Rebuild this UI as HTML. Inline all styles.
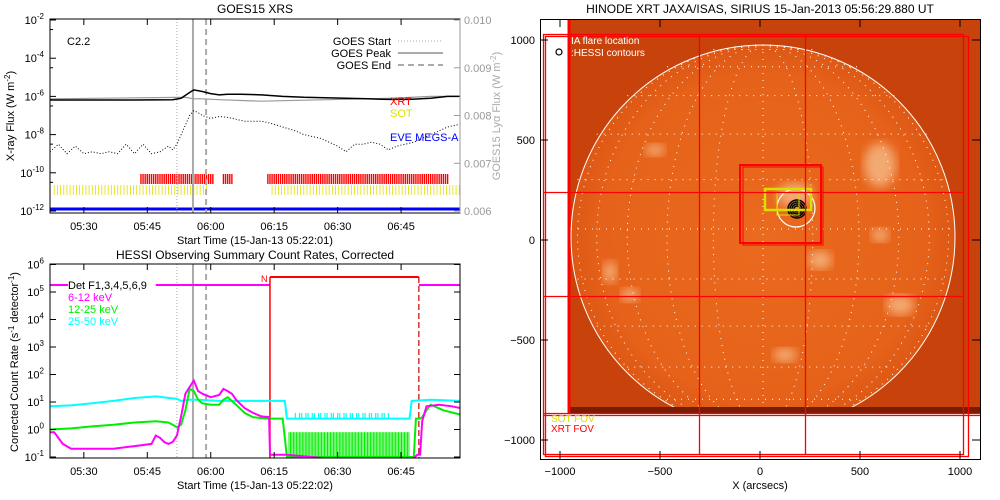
<!DOCTYPE html>
<html><head><meta charset="utf-8"><style>
html,body{margin:0;padding:0;background:#fff;width:1000px;height:500px;overflow:hidden}
svg{display:block;font-family:"Liberation Sans",sans-serif}
</style></head><body>
<svg id="fig" width="1000" height="500" viewBox="0 0 1000 500" xmlns="http://www.w3.org/2000/svg">
<defs>
<clipPath id="clipTop"><rect x="50" y="19" width="410" height="194"/></clipPath>
<clipPath id="clipBot"><rect x="50" y="264" width="410" height="194"/></clipPath>
<clipPath id="clipImg"><rect x="568" y="19" width="412" height="394"/></clipPath>
<radialGradient id="sunGrad" cx="0.5" cy="0.5" r="0.5">
<stop offset="0" stop-color="#ea6a1e"/><stop offset="0.85" stop-color="#e6621a"/><stop offset="1" stop-color="#dc5814"/></radialGradient>
<filter id="blur"><feGaussianBlur stdDeviation="5"/></filter>
</defs>
<g id="topPanel"></g>
<g id="botPanel"></g>
<g id="rightPanel"></g>
</svg>
<script>
// ---- GOES data (minutes since 05:22:01) ----
const goesLongT=[0,10,20,29,31,33,34,36,38,40,42,45,50,55,60,65,70,75,80,85,90,94,97];
const goesLongV=[6.5e-7,6.5e-7,6.5e-7,6.6e-7,8e-7,1.6e-6,2.2e-6,1.8e-6,1.4e-6,1.2e-6,1.3e-6,1.3e-6,1.2e-6,1.0e-6,9e-7,8.5e-7,8e-7,7.5e-7,7e-7,7e-7,8e-7,1e-6,1e-6];
const goesShortT=[0,2,4,6,8,10,12,14,16,18,20,22,24,26,28,29,30,31,32,33,34,35,36,38,40,42,44,46,48,50,52,55,58,60,62,64,66,68,70,72,74,76,78,80,82,84,86,88,90,92,94,96,97];
const goesShortLog=[-8.9,-8.5,-9,-8.6,-9,-8.9,-9,-8.9,-9,-8.5,-9,-8.5,-9,-8.9,-8.6,-8.8,-8.5,-8,-7.5,-7.0,-6.75,-6.85,-7.0,-7.15,-7.05,-7.1,-7.2,-7.3,-7.3,-7.3,-7.4,-7.6,-7.8,-8.0,-8.1,-8.2,-8.4,-8.6,-8.9,-8.5,-8.5,-8.4,-8.5,-8.8,-8.6,-8.5,-8.4,-8.2,-8.0,-7.8,-7.6,-7.5,-7.45];
const lyaT=[0,30,32,34,36,40,50,60,70,80,85,90,97];
const lyaV=[0.00835,0.00838,0.00838,0.00835,0.00835,0.00833,0.0083,0.00832,0.00834,0.00836,0.00838,0.0084,0.0084];
const goesTickLabels=["-2","-4","-6","-8","-10","-12"];
const lyaTickLabels=["0.010","0.009","0.008","0.007","0.006"];
const timeTickLabels=["05:30","05:45","06:00","06:15","06:30","06:45"];
const timeTickMins=[8,23,38,53,68,83];
const xrtRanges=[[21.5,38.5],[41,43],[51.5,94]];
const sotRanges=[[1,37.5],[52.5,97]];
const flareTimes=[30,33.8,36.9];
// ---- HESSI data ----
const magT=[0,1,3,5,8,15,20,24,25,26,27,28,29,30,31,32,33,34,35,36,38,40,41,42,43,44,46,48,50,51.8,52,56,65,86,86.8,87.5,88,89,92,95,97];
const magV=[0.8,0.8,0.3,0.2,0.2,0.2,0.25,0.3,0.6,0.5,0.35,0.3,0.35,0.6,3,20,35,60,25,20,15,18,30,25,20,12,6,4,3,2.8,0.12,0.12,0.09,0.09,0.12,0.12,2,7,8,7,6];
const grnT=[0,5,10,15,20,25,28,29,30,31,32,33,34,35,36,38,40,41,42,44,46,48,50,52,55,56,86,86.5,87.5,88,89,90,93,97];
const grnV=[1,1.1,1.3,1.5,1.8,2,1.8,1.5,1.2,1.5,5,30,25,12,9,8,8,12,15,8,4,2.8,2.6,2.5,2.5,0.1,0.1,2.5,2.5,2.8,5,8,5,3.5];
const cyaT=[0,5,10,15,20,25,30,31,33,35,40,45,52,55.5,56,70,85,85.5,90,97];
const cyaV=[7,7.5,9,11,14,16,13,11,12,12,11,11,11,11,2.5,2.5,2.5,11,12,11];
const grnGate=[56.5,85,0.8];
const cyaGate=[58,80,4];
const hessiTickExp=["6","5","4","3","2","1","0","-1"];
const hessiTickVals=[1e6,1e5,1e4,1e3,1e2,1e1,1,0.1];
const attenT=[52,87.2];
const imgTicks=[-1000,-500,0,500,1000];

const NS="http://www.w3.org/2000/svg";
function mk(tag,attrs,parent,txt){const e=document.createElementNS(NS,tag);for(const k in attrs)e.setAttribute(k,attrs[k]);if(txt!==undefined)e.textContent=txt;parent.appendChild(e);return e;}
const tx=t=>50+t*4.23;
const gy=v=>20+(-2-Math.log10(v))*19.1;
const gyl=l=>20+(-2-l)*19.1;
const ry=v=>20+(0.010-v)/0.004*191;
const hy=v=>457-(Math.log10(v)+1)*27.5;
function pathStep(T,V,fx,fy){let d="";for(let i=0;i<T.length;i++){d+=(i?"L":"M")+fx(T[i]).toFixed(1)+","+fy(V[i]).toFixed(1);}return d;}

// ================ TOP PANEL ================
const tp=document.getElementById('topPanel');
let t1=mk('text',{x:255,y:13,'text-anchor':'middle','font-size':12},tp,'GOES15 XRS');

const tc=mk('g',{'clip-path':'url(#clipTop)'},tp);
xrtRanges.forEach(r=>{for(let t=r[0];t<=r[1];t+=0.5){const l=mk('line',{x1:tx(t),x2:tx(t),y1:174,y2:184,stroke:'#ff0000','stroke-width':1.4},tc);}});
sotRanges.forEach(r=>{for(let t=r[0];t<=r[1];t+=0.75){const l=mk('line',{x1:tx(t),x2:tx(t),y1:185,y2:195,stroke:'#e0e000','stroke-width':0.8},tc);}});
let eve=mk('line',{x1:50,x2:460,y1:209,y2:209,stroke:'#0000ff','stroke-width':3},tc);

let fs=mk('line',{x1:tx(flareTimes[0]),x2:tx(flareTimes[0]),y1:19,y2:213,stroke:'#aaa','stroke-dasharray':'1 2'},tc);

let fp=mk('line',{x1:tx(flareTimes[1]),x2:tx(flareTimes[1]),y1:19,y2:213,stroke:'#aaa','stroke-width':2},tc);

let fe=mk('line',{x1:tx(flareTimes[2]),x2:tx(flareTimes[2]),y1:19,y2:213,stroke:'#aaa','stroke-width':2,'stroke-dasharray':'6 4'},tc);

let lya=mk('path',{d:pathStep(lyaT,lyaV,tx,ry),fill:'none',stroke:'#999','stroke-width':1.2},tc);

let gl=mk('path',{d:pathStep(goesLongT,goesLongV,tx,gy),fill:'none',stroke:'#000','stroke-width':1.5},tc);

let gs=mk('path',{d:pathStep(goesShortT,goesShortLog,tx,gyl),fill:'none',stroke:'#000','stroke-width':1,'stroke-dasharray':'1 2'},tc);

let fr=mk('rect',{x:50,y:19,width:410,height:194,fill:'none',stroke:'#000'},tp);

let rax=mk('line',{x1:460,x2:460,y1:19,y2:213,stroke:'#999'},tp);

goesTickLabels.forEach((lab,i)=>{const y=gyl(-2-2*i);
 mk('line',{x1:50,x2:56,y1:y,y2:y,stroke:'#000'},tp);
 if(i<5) mk('line',{x1:50,x2:53,y1:y+9.55,y2:y+9.55,stroke:'#000'},tp);
 const t=mk('text',{x:44,y:y+4,'text-anchor':'end','font-size':11},tp);
 
 mk('tspan',{},t,'10');mk('tspan',{dy:-5,'font-size':8},t,lab);});
lyaTickLabels.forEach((lab,i)=>{const v=0.010-0.001*i;const y=ry(v);
 mk('line',{x1:460,x2:454,y1:y,y2:y,stroke:'#999'},tp);
 const t=mk('text',{x:464,y:y+4,'font-size':11,fill:'#999'},tp,lab);
 });
timeTickLabels.forEach((lab,i)=>{const x=tx(timeTickMins[i]);
 mk('line',{x1:x,x2:x,y1:213,y2:207,stroke:'#000'},tp);mk('line',{x1:x,x2:x,y1:19,y2:25,stroke:'#000'},tp);
 const t=mk('text',{x:x,y:230,'text-anchor':'middle','font-size':11},tp,lab);
 });
let xl=mk('text',{x:255,y:244,'text-anchor':'middle','font-size':11},tp,'Start Time (15-Jan-13 05:22:01)');

let yl=mk('text',{x:0,y:0,'text-anchor':'middle','font-size':11,transform:'translate(14,116) rotate(-90)'},tp);

mk('tspan',{},yl,'X-ray Flux (W m');mk('tspan',{dy:-4,'font-size':8},yl,'-2');mk('tspan',{dy:4},yl,')');
let yr=mk('text',{x:0,y:0,'text-anchor':'middle','font-size':11,fill:'#aaa',transform:'translate(500,116) rotate(-90)'},tp);

mk('tspan',{},yr,'GOES15 Lyα Flux (W m');mk('tspan',{dy:-4,'font-size':8},yr,'-2');mk('tspan',{dy:4},yr,')');
let c22=mk('text',{x:67,y:45,'font-size':11},tp,'C2.2');
[['GOES Start','1 2',1],['GOES Peak','',2],['GOES End','6 4',2]].forEach((e,i)=>{const y=41+i*12;
 const t=mk('text',{x:391,y:y+4,'text-anchor':'end','font-size':11},tp,e[0]);
 
 mk('line',{x1:398,x2:443,y1:y,y2:y,stroke:'#aaa','stroke-width':e[2],'stroke-dasharray':e[1]},tp);});
[['XRT','#ff0000',105],['SOT','#e0e000',117],['EVE MEGS-A','#0000ff',141]].forEach(e=>{
 const t=mk('text',{x:390,y:e[2],'font-size':11,fill:e[1]},tp,e[0]);
 });

// ================ BOTTOM PANEL ================
const bot=document.getElementById('botPanel');
let bt=mk('text',{x:255,y:259,'text-anchor':'middle','font-size':12},bot,'HESSI Observing Summary Count Rates, Corrected');

const bc=mk('g',{'clip-path':'url(#clipBot)'},bot);
let bf1=mk('line',{x1:tx(flareTimes[0]),x2:tx(flareTimes[0]),y1:264,y2:458,stroke:'#aaa','stroke-dasharray':'1 2'},bc);

let bf2=mk('line',{x1:tx(flareTimes[1]),x2:tx(flareTimes[1]),y1:264,y2:458,stroke:'#aaa','stroke-width':2},bc);

let bf3=mk('line',{x1:tx(flareTimes[2]),x2:tx(flareTimes[2]),y1:264,y2:458,stroke:'#aaa','stroke-width':2,'stroke-dasharray':'6 4'},bc);

[[0,4.3],[25,attenT[0]],[attenT[1],97]].forEach(r=>{const l=mk('line',{x1:tx(r[0]),x2:tx(r[1]),y1:285,y2:285,stroke:'#ff00ff','stroke-width':2},bc);
 });
let nl=mk('line',{x1:tx(attenT[0]),x2:tx(attenT[1]),y1:277,y2:277,stroke:'#ff0000','stroke-width':2},bc);

let av=mk('line',{x1:tx(attenT[0]),x2:tx(attenT[0]),y1:277,y2:458,stroke:'#ff0000','stroke-width':1.5},bc);

let ae=mk('line',{x1:tx(attenT[1]),x2:tx(attenT[1]),y1:277,y2:458,stroke:'#cc0000','stroke-width':1.2,'stroke-dasharray':'6 3'},bc);

for(let t=grnGate[0];t<=grnGate[1];t+=0.35){const l=mk('line',{x1:tx(t),x2:tx(t),y1:hy(grnGate[2]),y2:458,stroke:'#00ee00','stroke-width':1},bc);
 }
for(let t=cyaGate[0];t<=cyaGate[1];t+=0.5){if(((t*2)|0)%3==0)continue;const l=mk('line',{x1:tx(t),x2:tx(t),y1:hy(cyaGate[2]),y2:hy(2.5),stroke:'#00ffff','stroke-width':1.2},bc);
 }
let cyl=mk('path',{d:pathStep(cyaT,cyaV,tx,hy),fill:'none',stroke:'#00ffff','stroke-width':2},bc);

let gr=mk('path',{d:pathStep(grnT,grnV,tx,hy),fill:'none',stroke:'#00ee00','stroke-width':2},bc);

let mg=mk('path',{d:pathStep(magT,magV,tx,hy),fill:'none',stroke:'#ff00ff','stroke-width':2},bc);

let bfr=mk('rect',{x:50,y:264,width:410,height:194,fill:'none',stroke:'#000'},bot);

hessiTickExp.forEach((lab,i)=>{const y=hy(hessiTickVals[i]);
 mk('line',{x1:50,x2:56,y1:y,y2:y,stroke:'#000'},bot);mk('line',{x1:460,x2:454,y1:y,y2:y,stroke:'#000'},bot);
 const t=mk('text',{x:44,y:y+4,'text-anchor':'end','font-size':11},bot);
 
 mk('tspan',{},t,'10');mk('tspan',{dy:-5,'font-size':8},t,lab);});
timeTickLabels.forEach((lab,i)=>{const x=tx(timeTickMins[i]);
 mk('line',{x1:x,x2:x,y1:458,y2:452,stroke:'#000'},bot);mk('line',{x1:x,x2:x,y1:264,y2:270,stroke:'#000'},bot);
 const t=mk('text',{x:x,y:475,'text-anchor':'middle','font-size':11},bot,lab);
 });
let bxl=mk('text',{x:255,y:489,'text-anchor':'middle','font-size':11},bot,'Start Time (15-Jan-13 05:22:02)');

let byl=mk('text',{x:0,y:0,'text-anchor':'middle','font-size':11,transform:'translate(18,362) rotate(-90)'},bot);

mk('tspan',{},byl,'Corrected Count Rate (s');mk('tspan',{dy:-4,'font-size':8},byl,'-1');mk('tspan',{dy:4},byl,' detector');mk('tspan',{dy:-4,'font-size':8},byl,'-1');mk('tspan',{dy:4},byl,')');
[['Det F1,3,4,5,6,9','#000',289],['6-12 keV','#ff00ff',301],['12-25 keV','#00ee00',313],['25-50 keV','#00ffff',325]].forEach(e=>{
 const t=mk('text',{x:68,y:e[2],'font-size':11,fill:e[1]},bot,e[0]);});
let nn=mk('text',{x:261,y:282,'font-size':9,fill:'#ff0000'},bot,'N');

// ================ RIGHT PANEL ================
const rp=document.getElementById('rightPanel');
const ax=a=>760+a*0.2, ay=a=>240-a*0.2;
let rt=mk('text',{x:760,y:13,'text-anchor':'middle','font-size':12},rp,'HINODE XRT JAXA/ISAS, SIRIUS 15-Jan-2013 05:56:29.880 UT');

const ic=mk('g',{'clip-path':'url(#clipImg)'},rp);
let bg=mk('rect',{x:568,y:19,width:412,height:394,fill:'#c8420c'},ic);
const scx=ax(15), scy=ay(15), R=192;
let sun=mk('circle',{cx:scx,cy:scy,r:R,fill:'url(#sunGrad)'},ic);
const bright=[[795,195,18,12],[880,165,16,22],[900,305,14,10],[610,272,7,11],[630,295,9,7],[655,150,10,6],[785,355,12,7],[820,260,12,9],[880,235,9,7]];
bright.forEach(b=>{const e=mk('ellipse',{cx:b[0],cy:b[1],rx:b[2],ry:b[3],fill:'#f8c898',opacity:0.7,filter:'url(#blur)'},ic);});
const grid=mk('g',{fill:'none',stroke:'#fff','stroke-width':1,'stroke-dasharray':'1 6'},ic);

for(let lat=-75;lat<=75;lat+=15){const y=scy-R*Math.sin(lat*Math.PI/180)-8*Math.cos(lat*Math.PI/180);const hw=R*Math.cos(lat*Math.PI/180);mk('line',{x1:scx-hw,x2:scx+hw,y1:y,y2:y},grid);}
for(let lon=-75;lon<=75;lon+=15){const rx=Math.abs(R*Math.sin(lon*Math.PI/180));const sweep=lon>0?1:0;
 mk('path',{d:`M${scx},${scy-R} A${rx},${R} 0 0 ${sweep} ${scx},${scy+R}`},grid);}
let limb=mk('circle',{cx:scx,cy:scy,r:R,fill:'none',stroke:'#fff','stroke-width':1},ic);
let cont=mk('g',{},ic);
mk('circle',{cx:796,cy:208,r:19,fill:'none',stroke:'#fff','stroke-width':1.2},cont);
[9,7,5,3].forEach(r=>mk('circle',{cx:797,cy:209,r:r,fill:'none',stroke:'#000','stroke-width':1.5},cont));
let sotg=mk('g',{fill:'none',stroke:'#d8e000'},ic);
mk('rect',{x:765,y:189,width:46,height:21,'stroke-width':2.5},sotg);mk('rect',{x:777,y:193,width:22,height:22},sotg);
let xrtb=mk('g',{fill:'none',stroke:'#ff0000'},ic);
mk('rect',{x:740,y:165,width:81,height:78,'stroke-width':2},xrtb);mk('rect',{x:743,y:167,width:80,height:78},xrtb);
mk('rect',{x:568,y:407,width:412,height:6,fill:'#7a1c04'},ic);
let wb=mk('rect',{x:541,y:413,width:439,height:46,fill:'#fff'},rp);
mk('rect',{x:541,y:19,width:27,height:394,fill:'#fff'},rp);
const rl=mk('g',{stroke:'#ff0000',fill:'none','stroke-width':1.3},rp);
mk('rect',{x:543.5,y:34.5,width:420,height:420},rl);mk('rect',{x:545.5,y:36.5,width:423,height:420},rl);
mk('line',{x1:699.5,x2:699.5,y1:34,y2:454},rl);mk('line',{x1:805.5,x2:805.5,y1:34,y2:454},rl);
mk('line',{x1:543,x2:963,y1:192.5,y2:192.5},rl);mk('line',{x1:543,x2:963,y1:296.5,y2:296.5},rl);
mk('line',{x1:543,x2:980,y1:413.5,y2:413.5},rl);mk('line',{x1:543,x2:980,y1:415.5,y2:415.5},rl);
mk('line',{x1:569,x2:569,y1:19,y2:413,'stroke-width':3},rl);
let rf=mk('rect',{x:540.5,y:19.5,width:440,height:440,fill:'none',stroke:'#000'},rp);
imgTicks.forEach(v=>{const x=ax(v),y=ay(v);
 mk('line',{x1:x,x2:x,y1:459,y2:451,stroke:'#000'},rp);mk('line',{x1:x,x2:x,y1:19,y2:27,stroke:'#000'},rp);
 mk('line',{x1:540,x2:548,y1:y,y2:y,stroke:'#000'},rp);mk('line',{x1:980,x2:972,y1:y,y2:y,stroke:'#000'},rp);
 const a=mk('text',{x:x,y:475,'text-anchor':'middle','font-size':11},rp,v==0?'0':String(v).replace('-','\u2212'));
 
 const b=mk('text',{x:535,y:y+4,'text-anchor':'end','font-size':11},rp,v==0?'0':String(v).replace('-','\u2212'));
 });
let ixl=mk('text',{x:760,y:489,'text-anchor':'middle','font-size':11},rp,'X (arcsecs)');
let l1=mk('text',{x:571,y:44,'font-size':10,fill:'#fff'},rp,'IA flare location');
let l2=mk('text',{x:571,y:56,'font-size':10,fill:'#fff'},rp,':HESSI contours');
mk('circle',{cx:559,cy:52,r:3,fill:'none',stroke:'#000','stroke-width':1.2},rp);
let l3=mk('text',{x:551,y:422,'font-size':10,fill:'#d8e000'},rp,'SOT FOV');
let l4=mk('text',{x:551,y:432,'font-size':10,fill:'#ff0000'},rp,'XRT FOV');
</script>
</body></html>
